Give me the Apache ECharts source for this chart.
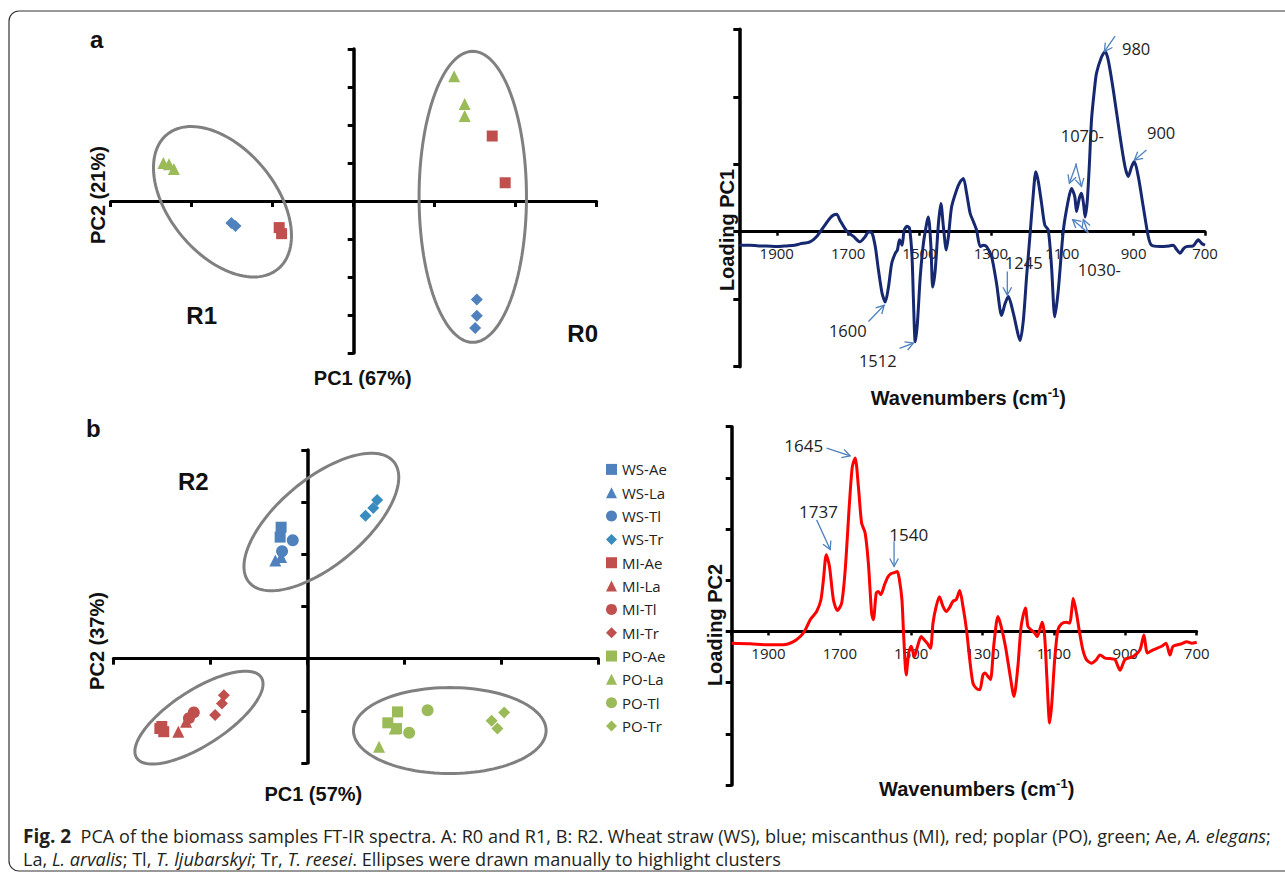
<!DOCTYPE html>
<html><head><meta charset="utf-8">
<script src="https://cdn.jsdelivr.net/npm/echarts@6/dist/echarts.min.js"></script>
<style>html,body{margin:0;padding:0;background:#fff;} #c{width:1285px;height:873px;}</style>
</head><body><div id="c"></div>
<script>
// ---------- Panel a (left): PCA R0 / R1 ----------
const aTriangles = [[1.24,3.28],[1.37,2.55],[1.37,2.24],[-2.35,1.00],[-2.28,0.97],[-2.22,0.84]];
const aSquares   = [[1.71,1.71],[1.87,0.48],[-0.92,-0.70],[-0.89,-0.86]];
const aDiamonds  = [[1.52,-2.59],[1.52,-3.02],[1.50,-3.34],[-1.51,-0.58],[-1.46,-0.66]];
// ellipse: centre x, centre y, semi-axis u (x,y), semi-axis v (x,y) in data units
const aEllipses  = [[1.47,0.11,0.663,0,0,3.83],[-1.62,-0.02,0.686,-1.768,0.505,0.892]];

// ---------- Panel a (right): loading PC1 ----------
const pc1Wavenumber = [2005,1975,1950,1930,1900,1872,1850,1835,1807,1788,1769,1751,1740,1732,1723,1704,1685,1667,1652,1643,1633,1624,1615,1605,1596,1587,1578,1568,1562,1556,1549,1543,1535,1528,1521,1517,1512,1506,1498,1489,1479,1475,1468,1463,1456,1447,1440,1433,1425,1419,1410,1396,1386,1377,1368,1358,1349,1340,1330,1321,1312,1298,1284,1270,1260,1251,1237,1218,1209,1200,1190,1181,1174,1167,1158,1149,1139,1130,1121,1111,1097,1083,1074,1065,1060,1052,1046,1040,1036,1030,1024,1018,1010,1004,990,980,971,957,938,924,915,906,898,887,873,859,850,826,800,789,780,770,760,752,733,719,710,700];
const pc1Loading    = [-0.20,-0.20,-0.21,-0.21,-0.22,-0.21,-0.20,-0.18,-0.15,-0.07,0.07,0.20,0.25,0.26,0.17,0.01,-0.07,-0.15,-0.07,0.00,-0.02,-0.22,-0.57,-0.91,-1.04,-0.82,-0.47,-0.32,-0.27,-0.12,-0.20,0.02,0.08,0.05,-0.37,-1.01,-1.63,-1.36,-0.67,-0.17,0.15,0.22,-0.22,-0.82,-0.57,0.12,0.42,0.07,-0.27,-0.07,0.37,0.62,0.74,0.79,0.57,0.27,0.15,0.02,-0.22,-0.20,-0.22,-0.37,-0.77,-1.24,-1.06,-0.96,-1.21,-1.61,-1.31,-0.67,-0.02,0.57,0.89,0.74,0.42,0.10,0.02,-0.52,-1.26,-0.86,0.02,0.47,0.64,0.52,0.30,0.50,0.57,0.40,0.22,0.45,1.00,1.66,2.10,2.35,2.59,2.67,2.54,2.10,1.41,0.96,0.82,0.96,1.04,0.82,0.37,-0.07,-0.20,-0.22,-0.21,-0.20,-0.26,-0.32,-0.25,-0.22,-0.21,-0.12,-0.17,-0.20];
const pc1Labels   = ['980','1070-','1030-','900','1245','1600','1512'];
const pc1LabelPos = [[893,2.72],[1044,1.43],[996,-0.56],[823,1.47],[1208,-0.46],[1701,-1.46],[1617,-1.91]];
const pc1Arrows   = [[952,2.90,982,2.67],[1060,1.01,1080,0.72],[1062,1.01,1046,0.67],[1027,-0.02,1071,0.18],[1027,-0.02,1041,0.18],[864,1.21,898,1.06],[1254,-0.59,1254,-0.94],[1643,-1.33,1599,-1.09],[1556,-1.73,1517,-1.65]];

// ---------- Panel b (left): PCA R2 ----------
const wsAe = [[-0.27,2.52],[-0.28,2.33]];
const wsLa = [[-0.33,1.88],[-0.27,1.95]];
const wsTl = [[-0.15,2.27],[-0.26,2.06]];
const wsTr = [[0.72,3.04],[0.68,2.89],[0.60,2.74]];
const miAe = [[-1.52,-1.34],[-1.48,-1.40],[-1.50,-1.30]];
const miLa = [[-1.33,-1.40],[-1.25,-1.21]];
const miTl = [[-1.17,-1.03],[-1.22,-1.14]];
const miTr = [[-0.86,-0.70],[-0.88,-0.86],[-0.95,-1.08]];
const poAe = [[0.93,-1.02],[0.83,-1.23],[0.92,-1.34]];
const poLa = [[0.74,-1.69],[0.90,-1.34]];
const poTl = [[1.24,-0.99],[1.05,-1.42]];
const poTr = [[2.03,-1.03],[1.90,-1.19],[1.96,-1.34]];
const bEllipses = [[0.145,2.62,0.745,1.157,-0.286,0.631],[-1.117,-1.13,0.642,0.772,-0.155,0.443],[1.469,-1.378,0.993,0,0,0.824]];

// ---------- Panel b (right): loading PC2 ----------
const pc2Wavenumber = [2003,1951,1905,1858,1830,1811,1797,1783,1765,1753,1746,1738,1729,1718,1707,1695,1685,1673,1665,1657,1648,1639,1629,1620,1611,1606,1598,1592,1585,1575,1565,1556,1547,1539,1533,1526,1521,1514,1507,1500,1491,1481,1472,1464,1455,1446,1439,1430,1421,1411,1402,1393,1383,1374,1364,1355,1345,1336,1327,1318,1308,1299,1293,1285,1278,1268,1257,1248,1236,1224,1212,1201,1192,1180,1173,1164,1154,1147,1140,1133,1126,1120,1112,1106,1098,1089,1079,1065,1056,1051,1046,1037,1028,1019,1009,995,981,971,957,943,929,915,901,878,859,848,838,822,798,786,775,766,742,728,714,700];
const pc2Loading    = [-0.23,-0.24,-0.26,-0.26,-0.20,-0.10,0.03,0.23,0.39,0.62,1.01,1.50,1.27,0.62,0.41,0.55,1.20,2.51,3.22,3.39,2.83,2.12,1.92,1.33,0.36,0.23,0.75,0.78,0.72,0.91,1.07,1.13,1.15,1.17,1.01,0.62,-0.10,-0.85,-0.42,-0.29,-0.49,-0.26,-0.10,-0.16,-0.23,-0.33,0.16,0.49,0.68,0.49,0.39,0.46,0.59,0.62,0.80,0.49,0.03,-0.55,-1.01,-1.11,-1.14,-0.85,-0.81,-0.88,-0.94,-0.23,0.29,0.10,-0.29,-0.81,-1.27,-0.68,0.10,0.46,0.10,0.03,-0.03,-0.10,0.03,0.18,-0.10,-0.88,-1.79,-1.40,-0.55,0.03,0.15,0.18,0.16,0.36,0.65,0.36,-0.03,-0.36,-0.55,-0.62,-0.55,-0.46,-0.52,-0.53,-0.55,-0.76,-0.55,-0.49,-0.36,-0.07,-0.42,-0.36,-0.29,-0.23,-0.46,-0.29,-0.24,-0.20,-0.23,-0.21];
const pc2Labels   = ['1645','1737','1540'];
const pc2LabelPos = [[1801,3.63],[1760,2.34],[1507,1.89]];
const pc2Arrows   = [[1737,3.58,1671,3.43],[1765,2.18,1727,1.60],[1548,1.76,1548,1.27]];

// tick labels of the wavenumber axes (drawn on the zero line)
const wavenumberTicks = [1900,1700,1500,1300,1100,900,700];

const legendNames = ['WS-Ae','WS-La','WS-Tl','WS-Tr','MI-Ae','MI-La','MI-Tl','MI-Tr','PO-Ae','PO-La','PO-Tl','PO-Tr'];

// ---------- styling ----------
const BLUE = '#4F81BD', TEAL = '#3A8CBF', RED = '#C0504D', GREEN = '#9BBB59';
const FONT_B = '"Liberation Sans", Arial, sans-serif';
const FONT_N = '"Open Sans", sans-serif';
const SIZE = {rect: 11, triangle: 12, circle: 12, diamond: 12};

const bSeriesDefs = [
  [wsAe,'rect',BLUE],[wsLa,'triangle',BLUE],[wsTl,'circle',BLUE],[wsTr,'diamond',TEAL],
  [miAe,'rect',RED],[miLa,'triangle',RED],[miTl,'circle',RED],[miTr,'diamond',RED],
  [poAe,'rect',GREEN],[poLa,'triangle',GREEN],[poTl,'circle',GREEN],[poTr,'diamond',GREEN]
];

function ellipseRender(params, api) {
  const cx = api.value(0), cy = api.value(1), ux = api.value(2), uy = api.value(3), vx = api.value(4), vy = api.value(5);
  const pts = [];
  for (let k = 0; k < 120; k++) {
    const t = k / 120 * 2 * Math.PI;
    pts.push(api.coord([cx + ux * Math.cos(t) + vx * Math.sin(t), cy + uy * Math.cos(t) + vy * Math.sin(t)]));
  }
  return {type: 'polygon', shape: {points: pts}, style: {fill: 'none', stroke: '#808080', lineWidth: 3}};
}
function arrowRender(params, api) {
  const p1 = api.coord([api.value(0), api.value(1)]);
  const p2 = api.coord([api.value(2), api.value(3)]);
  const ang = Math.atan2(p2[1] - p1[1], p2[0] - p1[0]);
  const L = 9, A = 0.5;
  const h1 = [p2[0] - L * Math.cos(ang - A), p2[1] - L * Math.sin(ang - A)];
  const h2 = [p2[0] - L * Math.cos(ang + A), p2[1] - L * Math.sin(ang + A)];
  return {type: 'group', children: [
    {type: 'line', shape: {x1: p1[0], y1: p1[1], x2: p2[0], y2: p2[1]}, style: {stroke: '#4F81BD', lineWidth: 1.3}},
    {type: 'polyline', shape: {points: [h1, p2, h2]}, style: {stroke: '#4F81BD', lineWidth: 1.3, fill: 'none'}}
  ]};
}
function textRender(labels, size, dy) {
  return function (params, api) {
    const p = api.coord([api.value(0), api.value(1)]);
    return {type: 'text', x: p[0], y: p[1] + dy, style: {text: labels[params.dataIndex], fontSize: size, fontFamily: FONT_N, fill: '#222', align: 'center', verticalAlign: 'middle'}};
  };
}

function pcaX(grid, min, max) {
  return {gridIndex: grid, type: 'value', min: min, max: max, interval: 1,
    axisLine: {onZero: true, lineStyle: {color: '#000', width: 3}},
    axisTick: {show: true, length: 6, lineStyle: {color: '#000', width: 3}},
    axisLabel: {show: false}, splitLine: {show: false}};
}
function loadX(grid, max) {
  return {gridIndex: grid, type: 'value', inverse: true, min: 700, max: max, interval: 200,
    axisLine: {onZero: true, lineStyle: {color: '#000', width: 3}},
    axisTick: {show: true, length: 4, lineStyle: {color: '#000', width: 2.5}},
    axisLabel: {show: false}, splitLine: {show: false}};
}
function yAx(grid, min, max) {
  return {gridIndex: grid, type: 'value', min: min, max: max, interval: 1,
    axisLine: {onZero: true, lineStyle: {color: '#000', width: 3.5}},
    axisTick: {show: true, length: 6, lineStyle: {color: '#000', width: 3}},
    axisLabel: {show: false}, splitLine: {show: false}};
}
function scatter(name, data, sym, color, xi) {
  return {name: name, type: 'scatter', xAxisIndex: xi, yAxisIndex: xi, data: data, symbol: sym,
    symbolSize: SIZE[sym], itemStyle: {color: color, opacity: 1}, silent: true, z: 4};
}
function txt(x, y, text, size, extra) {
  return Object.assign({type: 'text', x: x, y: y, silent: true,
    style: {text: text, fontSize: size, fontFamily: FONT_B, fontWeight: 'bold', fill: '#111', align: 'center', verticalAlign: 'middle'}}, extra || {});
}
function waveLabel(x, y) {
  return {type: 'text', x: x, y: y, silent: true,
    style: {text: 'Wavenumbers (cm{sup|-1})', fontSize: 20, fontFamily: FONT_B, fontWeight: 'bold', fill: '#111',
      align: 'center', verticalAlign: 'middle', lineHeight: 24,
      rich: {sup: {fontSize: 13, fontFamily: FONT_B, fontWeight: 'bold', fill: '#111', verticalAlign: 'top', lineHeight: 13}}}};
}

const tickPoints = wavenumberTicks.map(v => [v, 0]);
const tickTexts = wavenumberTicks.map(v => String(v));

const series = [];
series.push(scatter('aTri', aTriangles, 'triangle', GREEN, 0));
series.push(scatter('aSq', aSquares, 'rect', RED, 0));
series.push(scatter('aDia', aDiamonds, 'diamond', BLUE, 0));
series.push({type: 'custom', xAxisIndex: 0, yAxisIndex: 0, data: aEllipses, renderItem: ellipseRender, silent: true, z: 3, encode: {x: 0, y: 1}});

series.push({type: 'custom', xAxisIndex: 1, yAxisIndex: 1, data: tickPoints, renderItem: textRender(tickTexts, 15, 21.5), silent: true, z: 1});
series.push({type: 'line', xAxisIndex: 1, yAxisIndex: 1, data: pc1Wavenumber.map((w, i) => [w, pc1Loading[i]]),
  symbol: 'none', showSymbol: false, smooth: 0.25, lineStyle: {color: '#152870', width: 3}, silent: true, z: 3});
series.push({type: 'custom', xAxisIndex: 1, yAxisIndex: 1, data: pc1Arrows, renderItem: arrowRender, silent: true, z: 5, encode: {x: 0, y: 1}});
series.push({type: 'custom', xAxisIndex: 1, yAxisIndex: 1, data: pc1LabelPos, renderItem: textRender(pc1Labels, 16.5, 0), silent: true, z: 5});

bSeriesDefs.forEach((d, i) => series.push(scatter(legendNames[i], d[0], d[1], d[2], 2)));
series.push({type: 'custom', xAxisIndex: 2, yAxisIndex: 2, data: bEllipses, renderItem: ellipseRender, silent: true, z: 3, encode: {x: 0, y: 1}});

series.push({type: 'custom', xAxisIndex: 3, yAxisIndex: 3, data: tickPoints, renderItem: textRender(tickTexts, 15, 21.5), silent: true, z: 1});
series.push({type: 'line', xAxisIndex: 3, yAxisIndex: 3, data: pc2Wavenumber.map((w, i) => [w, pc2Loading[i]]),
  symbol: 'none', showSymbol: false, smooth: 0.25, lineStyle: {color: '#FF0000', width: 3}, silent: true, z: 3});
series.push({type: 'custom', xAxisIndex: 3, yAxisIndex: 3, data: pc2Arrows, renderItem: arrowRender, silent: true, z: 5, encode: {x: 0, y: 1}});
series.push({type: 'custom', xAxisIndex: 3, yAxisIndex: 3, data: pc2LabelPos, renderItem: textRender(pc2Labels, 17, 0), silent: true, z: 5});

const ROT = {rotation: Math.PI / 2};
const captionRich = {
  b: {fontFamily: FONT_N, fontWeight: 'bold', fontSize: 19, fill: '#231F20'},
  i: {fontFamily: FONT_N, fontStyle: 'italic', fontSize: 18.1, fill: '#231F20'}
};

const option = {
  animation: false,
  backgroundColor: '#fff',
  grid: [
    {left: 110.7, top: 49, width: 486, height: 304},
    {left: 739.3, top: 29.3, width: 465.7, height: 337.4},
    {left: 113.3, top: 450, width: 485, height: 313},
    {left: 731.7, top: 426.7, width: 465, height: 358.3}
  ],
  xAxis: [pcaX(0, -3, 3), loadX(1, 2005), pcaX(2, -2, 3), loadX(3, 2003)],
  yAxis: [yAx(0, -4, 4), yAx(1, -2, 3), yAx(2, -2, 4), yAx(3, -3, 4)],
  legend: {data: legendNames, orient: 'vertical', left: 606, top: 461.4, padding: 0,
    itemWidth: 11, itemHeight: 11, itemGap: 7.33, selectedMode: false,
    textStyle: {fontSize: 15, lineHeight: 16, fontFamily: FONT_N, color: '#222'}},
  series: series,
  graphic: [
    {type: 'rect', silent: true, shape: {x: 9, y: 11, width: 1300, height: 860, r: 10}, style: {fill: 'none', stroke: '#333', lineWidth: 1.2}},
    txt(96.7, 39, 'a', 24), txt(93.3, 428.3, 'b', 24),
    txt(201.7, 315, 'R1', 24), txt(582.7, 333.3, 'R0', 24), txt(193.3, 481.7, 'R2', 24),
    txt(98, 195, 'PC2 (21%)', 20, ROT),
    txt(362.7, 378.3, 'PC1 (67%)', 20),
    txt(726.7, 230, 'Loading PC1', 20, ROT),
    waveLabel(968.3, 398.3),
    txt(96.7, 641, 'PC2 (37%)', 20, ROT),
    txt(313.3, 794, 'PC1 (57%)', 20),
    txt(715, 625, 'Loading PC2', 20, ROT),
    waveLabel(976.7, 789.3),
    {type: 'text', x: 23, y: 836, silent: true, style: {text: '{b|Fig. 2}  PCA of the biomass samples FT-IR spectra. A: R0 and R1, B: R2. Wheat straw (WS), blue; miscanthus (MI), red; poplar (PO), green; Ae, {i|A. elegans};',
      fontFamily: FONT_N, fontSize: 18.1, fill: '#231F20', align: 'left', verticalAlign: 'middle', rich: captionRich}},
    {type: 'text', x: 23, y: 859, silent: true, style: {text: 'La, {i|L. arvalis}; Tl, {i|T. ljubarskyi}; Tr, {i|T. reesei}. Ellipses were drawn manually to highlight clusters',
      fontFamily: FONT_N, fontSize: 18.1, fill: '#231F20', align: 'left', verticalAlign: 'middle', rich: captionRich}}
  ]
};

const chart = echarts.init(document.getElementById('c'), null, {renderer: 'svg', width: 1285, height: 873});
chart.setOption(option);
</script></body></html>
